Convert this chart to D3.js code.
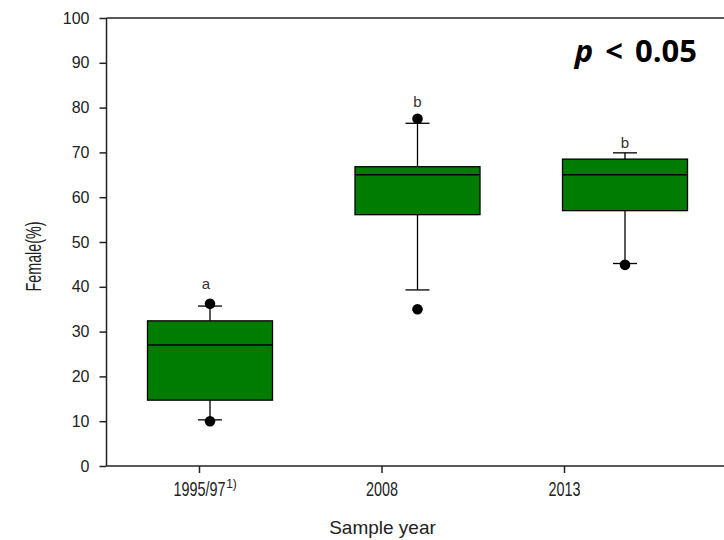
<!DOCTYPE html>
<html>
<head>
<meta charset="utf-8">
<script src="https://cdn.jsdelivr.net/npm/d3@7"></script>
<style>
  html, body { margin: 0; padding: 0; background: #fff; }
  svg { display: block; }
</style>
</head>
<body>
<svg id="chart" width="724" height="540"></svg>
<script>
// ---- data ----
const categories = ["1995/97", "2008", "2013"];
const footnotes = ["1)", "", ""];
const q1 = [14.7, 56.1, 57.0];
const medians = [27.0, 65.0, 65.0];
const q3 = [32.4, 66.8, 68.5];
const whiskerLow = [10.3, 39.3, 45.2];
const whiskerHigh = [35.7, 76.5, 69.9];
const outliers = [[10.0, 36.2], [35.0, 77.5], [44.9]];
const letters = ["a", "b", "b"];
const letterValues = [39.5, 80.1, 71.0];
const yTicks = [0, 10, 20, 30, 40, 50, 60, 70, 80, 90, 100];
const pText = "< 0.05";

(function () {
// ---- layout ----
const svg = d3.select("#chart");
const mLeft = 106.5, mBottom = 466, mTop = 18, mRight = 724;
const y = d3.scaleLinear().domain([0, 100]).range([mBottom, mTop]);
const xTick = d3.scalePoint().domain(categories).range([199, 564]);
const xBox = d3.scalePoint().domain(categories).range([210, 625]);
const boxW = 125, capW = 24;
const font = "'Liberation Sans', Arial, sans-serif";
const ink = "#222";

// y axis
const yAxis = svg.append("g")
  .attr("transform", `translate(${mLeft},0)`)
  .call(d3.axisLeft(y).tickValues(yTicks).tickSize(7).tickPadding(10).tickSizeOuter(0));
yAxis.select(".domain").remove();
yAxis.selectAll(".tick line").attr("stroke", ink).attr("stroke-width", 1.5);
yAxis.selectAll(".tick text").attr("font-family", font).attr("font-size", 16).attr("fill", ink);

// x axis
const xAxis = svg.append("g")
  .attr("transform", `translate(0,${mBottom})`)
  .call(d3.axisBottom(xTick).tickSize(7).tickPadding(6).tickSizeOuter(0));
xAxis.select(".domain").remove();
xAxis.selectAll(".tick line").attr("stroke", ink).attr("stroke-width", 1.5);
xAxis.selectAll(".tick text")
  .attr("font-family", font).attr("font-size", 20).attr("fill", ink)
  .attr("y", 30).attr("dy", 0)
  .attr("transform", "scale(0.72,1)");
xAxis.selectAll(".tick").each(function(d, i) {
  if (!footnotes[i]) return;
  d3.select(this).append("text")
    .attr("x", 32).attr("y", 22)
    .attr("font-family", font).attr("font-size", 12).attr("fill", ink)
    .text(footnotes[i]);
});

// frame lines
const frame = svg.append("g").attr("stroke", ink).attr("stroke-width", 1.5);
frame.append("line").attr("x1", mLeft).attr("x2", mLeft).attr("y1", y(100)).attr("y2", y(0));
frame.append("line").attr("x1", mLeft).attr("x2", mRight).attr("y1", y(0)).attr("y2", y(0));
frame.append("line").attr("x1", mLeft).attr("x2", mRight).attr("y1", y(100)).attr("y2", y(100));

// boxes
const g = svg.append("g");
categories.forEach((c, i) => {
  const cx = xBox(c);
  const grp = g.append("g");
  grp.append("line").attr("x1", cx).attr("x2", cx).attr("y1", y(q3[i])).attr("y2", y(whiskerHigh[i]))
    .attr("stroke", "#000").attr("stroke-width", 1.3);
  grp.append("line").attr("x1", cx).attr("x2", cx).attr("y1", y(q1[i])).attr("y2", y(whiskerLow[i]))
    .attr("stroke", "#000").attr("stroke-width", 1.3);
  grp.append("line").attr("x1", cx - capW / 2).attr("x2", cx + capW / 2)
    .attr("y1", y(whiskerHigh[i])).attr("y2", y(whiskerHigh[i]))
    .attr("stroke", "#000").attr("stroke-width", 1.3);
  grp.append("line").attr("x1", cx - capW / 2).attr("x2", cx + capW / 2)
    .attr("y1", y(whiskerLow[i])).attr("y2", y(whiskerLow[i]))
    .attr("stroke", "#000").attr("stroke-width", 1.3);
  grp.append("rect")
    .attr("x", cx - boxW / 2).attr("width", boxW)
    .attr("y", y(q3[i])).attr("height", y(q1[i]) - y(q3[i]))
    .attr("fill", "#007d00").attr("stroke", "#000").attr("stroke-width", 1.3);
  grp.append("line").attr("x1", cx - boxW / 2).attr("x2", cx + boxW / 2)
    .attr("y1", y(medians[i])).attr("y2", y(medians[i]))
    .attr("stroke", "#000").attr("stroke-width", 1.5);
  grp.selectAll("circle").data(outliers[i]).join("circle")
    .attr("cx", cx).attr("cy", d => y(d)).attr("r", 5.3).attr("fill", "#000");
  grp.append("text")
    .attr("x", cx - (i === 0 ? 4 : 0)).attr("y", y(letterValues[i]))
    .attr("text-anchor", "middle")
    .attr("font-family", font).attr("font-size", 15).attr("fill", "#333")
    .text(letters[i]);
});

// axis titles
svg.append("text")
  .attr("transform", `translate(41,256.5) rotate(-90)`)
  .attr("text-anchor", "middle")
  .attr("font-family", font).attr("font-size", 22).attr("fill", ink)
  .attr("textLength", 70).attr("lengthAdjust", "spacingAndGlyphs")
  .text("Female(%)");
svg.append("text")
  .attr("x", 382.5).attr("y", 534)
  .attr("text-anchor", "middle")
  .attr("font-family", font).attr("font-size", 19).attr("fill", ink)
  .text("Sample year");

// p-value annotation
const pt = svg.append("text")
  .attr("x", 697).attr("y", 62)
  .attr("text-anchor", "end")
  .attr("font-family", "'Open Sans', sans-serif").attr("font-weight", "bold")
  .attr("font-size", 31).attr("fill", "#000")
  .attr("word-spacing", 4);
pt.append("tspan").attr("font-style", "italic").text("p");
pt.append("tspan").text(" " + pText);
})();
</script>
</body>
</html>
